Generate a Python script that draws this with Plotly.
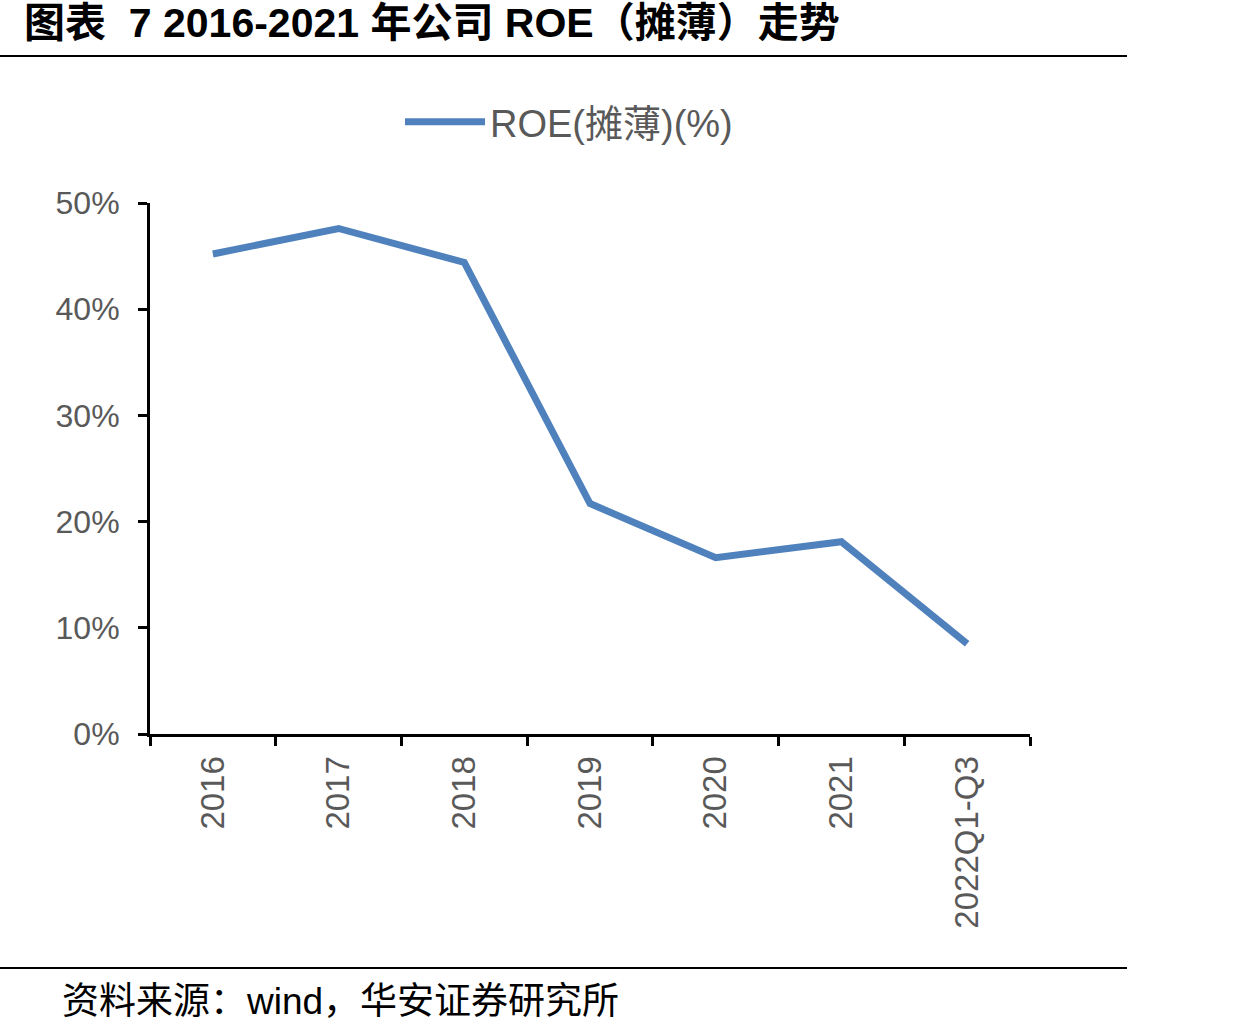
import plotly.graph_objects as go

categories = ["2016", "2017", "2018", "2019", "2020", "2021", "2022Q1-Q3"]
roe = [45.2, 47.6, 44.4, 21.7, 16.6, 18.1, 8.5]
series_name = "ROE(摊薄)(%)"
title_text = "<b>图表  7 2016-2021 年公司 ROE（摊薄）走势</b>"
source_text = "资料来源：wind，华安证券研究所"

L, R, T, B = 150, 230, 203, 302
W, H = 1260, 1036
pw, ph = W - L - R, H - T - B

def px(x):
    return (x - L) / pw

def py(y):
    return (H - B - y) / ph

fig = go.Figure()
fig.add_trace(go.Scatter(
    x=categories, y=roe, mode="lines", name=series_name,
    line=dict(color="#4F81BD", width=7),
))

fig.update_layout(
    width=W, height=H,
    margin=dict(l=L, r=R, t=T, b=B),
    plot_bgcolor="white", paper_bgcolor="white",
    font=dict(family="Liberation Sans, Arial, Noto Sans CJK SC", color="#595959"),
    showlegend=True,
    legend=dict(
        orientation="h", x=px(400), xanchor="left", y=py(122), yanchor="middle",
        font=dict(size=38, color="#595959", family="Liberation Sans, Noto Sans CJK SC"),
        itemwidth=80, bgcolor="rgba(0,0,0,0)",
    ),
    xaxis=dict(
        type="category", tickson="boundaries", showline=True, linecolor="black",
        linewidth=3, ticks="outside", ticklen=9, tickwidth=3, tickcolor="black",
        tickangle=-90, tickfont=dict(size=33, color="#595959"), ticklabelstandoff=6,
        showgrid=False, zeroline=False, range=[-0.5, 6.5],
    ),
    yaxis=dict(
        range=[0, 50], dtick=10, ticksuffix="%", showline=True, linecolor="black",
        linewidth=3, ticks="outside", ticklen=9, tickwidth=3, tickcolor="black",
        tickfont=dict(size=32, color="#595959"), ticklabelstandoff=12,
        showgrid=False, zeroline=False,
    ),
    shapes=[
        dict(type="line", xref="paper", yref="paper", x0=px(0), x1=px(1127),
             y0=py(56), y1=py(56), line=dict(color="black", width=2)),
        dict(type="line", xref="paper", yref="paper", x0=px(0), x1=px(1127),
             y0=py(968), y1=py(968), line=dict(color="black", width=2)),
    ],
    annotations=[
        dict(text=title_text, xref="paper", yref="paper", x=px(22), y=py(23),
             xanchor="left", yanchor="middle", showarrow=False,
             font=dict(size=41, color="black", family="Liberation Sans, Noto Sans CJK SC")),
        dict(text=source_text, xref="paper", yref="paper", x=px(60), y=py(1001),
             xanchor="left", yanchor="middle", showarrow=False,
             font=dict(size=37, color="black", family="Liberation Sans, Noto Sans CJK SC")),
    ],
)

fig.write_html("out.html")
